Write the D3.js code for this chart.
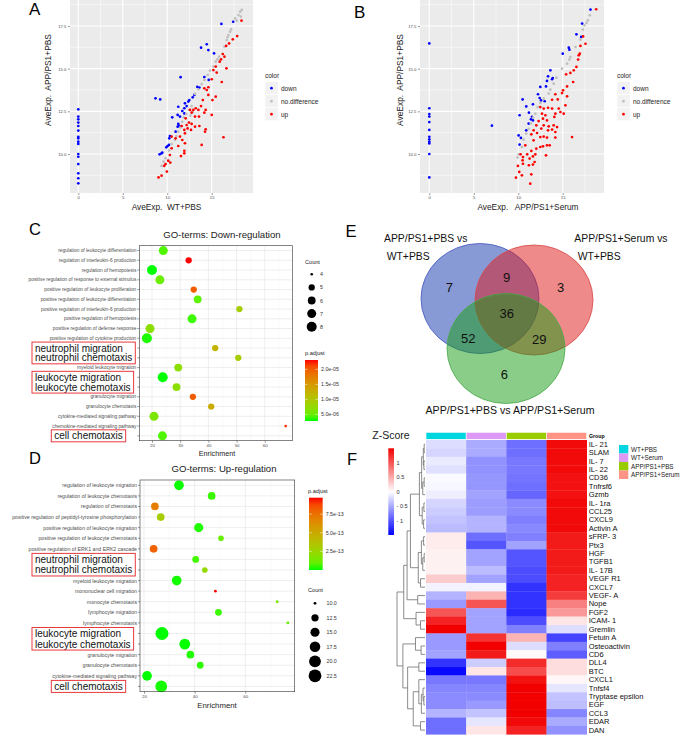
<!DOCTYPE html>
<html>
<head>
<meta charset="utf-8">
<script src="https://cdn.jsdelivr.net/npm/d3@7"></script>
<style>
  body { margin: 0; background: #fff; }
  svg { display: block; font-family: "Liberation Sans", Arial, sans-serif; }
  text { white-space: pre; }
</style>
</head>
<body>
<svg id="fig" width="685" height="736"></svg>
<script>
const FONT = '"Liberation Sans", Arial, sans-serif';

// ---------- A: AveExp WT+PBS (x) vs APP/PS1+PBS (y) ----------
const scatterADown = [
  [0,12.62],[0,12.19],[0,12.03],[0,11.84],[0,11.64],[0,11.37],[0,11.01],[0,10.92],[0,10.72],[0,10.59],
  [0,10.0],[0,9.84],[0,9.41],[0,8.87],[0,8.58],[0,8.28],
  [16.09,17.62],[17.41,17.75],[14.44,16.43],[13.8,16.23],[14.62,16.09],[15.26,15.9],[11.5,14.5],[14.17,14.51],
  [14.66,14.34],[13.38,13.93],[13.61,13.89],[8.68,13.26],[9.21,13.2],[13.05,13.46],[12.86,13.32],[12.48,13.16],
  [12.37,13.07],[11.99,12.97],[12.18,12.81],[11.24,12.77],[11.92,12.68],[11.69,12.52],[11.17,12.29],[10.56,12.15],
  [11.43,12.19],[11.92,12.38],[11.24,11.76],[11.35,11.64],[11.17,11.6],[10.94,11.31],[10.3,11.05],[10.23,10.92],
  [10.04,10.47],[9.89,10.39],[10.19,10.53],[9.36,10.04],[9.14,9.98],[9.44,10.08]
];
const scatterANoDiff = [
  [18.38,18.44],[18.2,18.34],[18.01,18.14],[18.27,18.05],[17.63,17.95],[17.82,17.81],[17.18,17.3],[17.07,17.17],
  [16.88,16.97],[16.77,16.84],[16.69,16.68],[16.43,16.29],[15.83,15.7],[15.64,15.55],[15.45,15.41],[15.19,15.12],
  [14.81,14.88],[14.55,14.63],[14.17,14.34],[13.87,14.1],[13.5,13.79],[13.12,13.52],[12.74,12.81],[12.44,12.58],
  [12.14,12.34],[11.84,12.15],[11.69,11.89],[11.47,11.56],[11.24,11.31],[11.02,11.05],[10.86,10.82],[10.49,10.59],
  [10.19,10.2],[9.81,9.75],[9.59,9.55],[9.36,9.3],[12.9,12.45],[12.6,12.25]
];
const scatterAUp = [
  [18.35,17.81],[17.86,16.91],[17.37,16.72],[16.95,16.48],[16.62,16.33],[16.24,15.86],[16.43,15.7],[16.05,15.55],
  [15.9,15.41],[16.65,15.02],[15.45,15.12],[15.19,14.92],[15.56,14.77],[15.0,14.38],[16.13,14.22],[14.62,13.91],
  [14.17,13.85],[14.44,13.75],[14.62,13.46],[14.0,13.16],[15.45,13.36],[15.08,13.16],[13.8,12.81],[12.93,12.58],
  [13.2,12.68],[13.5,12.58],[12.56,12.58],[12.74,12.42],[14.32,12.58],[14.17,12.42],[13.12,12.19],[13.57,12.19],
  [12.07,12.09],[15.0,12.29],[12.44,11.84],[12.74,11.76],[12.18,11.7],[11.62,11.64],[13.12,11.6],[13.61,11.64],
  [12.29,11.5],[11.92,11.41],[12.67,11.41],[14.32,11.45],[14.25,11.31],[11.99,11.21],[11.43,11.02],[10.94,10.92],
  [10.49,11.02],[11.69,10.82],[11.99,10.63],[11.24,10.47],[13.87,10.53],[16.32,10.98],[10.49,10.33],[11.92,10.19],
  [11.92,10.04],[11.54,9.88],[10.3,9.94],[10.11,9.61],[10.34,9.5],[9.81,9.41],[9.66,9.31],[9.96,8.97],
  [9.36,8.73],[9.02,8.63]
];

// ---------- B: AveExp APP/PS1+Serum (x) vs APP/PS1+PBS (y) ----------
const scatterBDown = [
  [0,16.48],[0,12.68],[0,12.34],[0,12.19],[0,11.87],[0,11.41],[0,11.01],[0,10.86],[0,10.72],[0,10.62],
  [0,10.0],[0,8.63],[7.04,11.66],
  [18.12,18.46],[17.18,17.64],[16.54,17.01],[17.07,16.86],[15.68,16.23],[15.75,16.11],[15.0,15.88],[13.61,14.9],
  [13.35,14.55],[13.87,14.45],[13.8,14.38],[13.23,14.28],[13.12,13.96],[12.48,13.93],[12.22,13.5],[12.41,13.28],
  [12.56,13.14],[12.97,13.09],[10.49,13.2],[10.9,12.79],[11.65,12.91],[11.2,12.42],[10.15,12.27],[11.54,12.17],
  [11.43,12.03],[11.65,11.97],[11.17,11.78],[10.9,11.39],[10.04,11.09],[10.3,10.94],[10.15,10.55]
];
const scatterBNoDiff = [
  [18.05,18.13],[17.82,17.83],[17.67,17.68],[17.44,17.54],[17.26,17.29],[16.99,16.7],[16.43,16.27],[15.86,15.68],
  [15.75,15.53],[15.49,15.29],[14.92,15.0],[14.29,14.47],[13.98,14.12],[13.61,13.77],[13.42,13.54],[12.86,13.24],
  [12.48,12.99],[12.18,12.75],[11.92,12.36],[11.65,12.13],[11.43,11.78],[11.17,11.48],[10.9,11.19],[10.6,10.84],
  [10.41,10.41],[10.04,9.98],[9.92,9.79]
];
const scatterBUp = [
  [18.76,18.48],[17.29,16.89],[17.56,16.46],[16.99,16.33],[16.92,15.88],[16.8,15.78],[16.73,15.53],[16.54,15.1],
  [16.24,14.9],[15.86,14.75],[15.38,14.67],[16.17,14.22],[15.49,13.96],[15.04,13.73],[14.92,13.57],[14.17,13.5],
  [15.49,13.38],[14.44,13.2],[13.8,13.18],[15.3,12.85],[12.48,12.75],[12.86,12.66],[13.35,12.71],[13.8,12.66],
  [14.55,12.66],[14.74,12.46],[15.11,12.36],[12.67,12.36],[13.05,12.27],[14.17,12.36],[14.06,12.17],[12.78,12.07],
  [12.29,11.93],[13.23,11.97],[12.03,11.68],[12.86,11.68],[13.42,11.62],[13.98,11.68],[14.36,11.58],[12.59,11.49],
  [11.73,11.39],[13.35,11.39],[13.8,11.43],[14.17,11.29],[12.11,11.23],[11.47,11.15],[12.48,10.99],[12.86,11.02],
  [13.23,10.96],[14.17,10.96],[16.05,10.99],[11.73,10.8],[10.79,10.51],[12.48,10.41],[12.78,10.45],[13.23,10.51],
  [13.53,10.51],[12.03,10.31],[11.47,10.18],[10.26,9.98],[11.0,9.98],[11.92,9.98],[13.12,9.92],[11.65,9.86],
  [10.53,9.82],[11.28,9.73],[10.49,9.63],[11.84,9.53],[10.53,9.43],[11.65,9.38],[11.2,9.34],[9.96,9.3],
  [10.11,8.95],[10.41,8.75],[11.47,8.81],[9.74,8.61],[11.35,8.26]
];
const scatterXTicks = [0, 5, 10, 15];
const scatterYTicks = [10, 12.5, 15, 17.5];
const scatterXMinor = [2.5, 7.5, 12.5, 17.5];
const scatterYMinor = [8.75, 11.25, 13.75, 16.25, 18.75];
const colorClasses = ['down', 'no.difference', 'up'];
const classColors = ['#0000ff', '#bebebe', '#ff0000'];

// ---------- C: GO-terms down-regulation ----------
const goDownTerms = [
  'regulation of leukocyte differentiation', 'regulation of interleukin-6 production', 'regulation of hemopoiesis',
  'positive regulation of response to external stimulus', 'positive regulation of leukocyte proliferation',
  'positive regulation of leukocyte differentiation', 'positive regulation of interleukin-6 production',
  'positive regulation of hemopoiesis', 'positive regulation of defense response',
  'positive regulation of cytokine production', 'neutrophil migration', 'neutrophil chemotaxis',
  'myeloid leukocyte migration', 'leukocyte migration', 'leukocyte chemotaxis', 'granulocyte migration',
  'granulocyte chemotaxis', 'cytokine-mediated signaling pathway', 'chemokine-mediated signaling pathway',
  'cell chemotaxis'
];
const goDownEnrich = [24.0, 33.0, 20.0, 22.8, 34.8, 36.2, 51.0, 34.2, 19.3, 18.2, 42.4, 50.6, 29.3, 23.8, 28.7, 34.5, 41.0, 20.7, 67.4, 23.7];
const goDownCount = [7, 5, 8, 7, 5, 6, 5, 7, 7, 8, 5, 5, 6, 8, 6, 5, 5, 7, 4, 7];
const goDownPadj = [4e-6, 2.31e-5, 2.8e-6, 5e-6, 2.0e-5, 4.5e-6, 9e-6, 3.5e-6, 7e-6, 3e-6, 1.2e-5, 9e-6, 7e-6, 2.8e-6, 7e-6, 2.0e-5, 1.3e-5, 6e-6, 2.25e-5, 4e-6];
const goDownXTicks = [20, 30, 40, 50, 60];
const goDownCountBreaks = [4, 5, 6, 7, 8];
const goDownPadjBreaks = [5e-6, 1e-5, 1.5e-5, 2e-5];

// ---------- D: GO-terms up-regulation ----------
const goUpTerms = [
  'regulation of leukocyte migration', 'regulation of leukocyte chemotaxis', 'regulation of chemotaxis',
  'positive regulation of peptidyl-tyrosine phosphorylation', 'positive regulation of leukocyte migration',
  'positive regulation of leukocyte chemotaxis', 'positive regulation of ERK1 and ERK2 cascade',
  'neutrophil migration', 'neutrophil chemotaxis', 'myeloid leukocyte migration', 'mononuclear cell migration',
  'monocyte chemotaxis', 'lymphocyte migration', 'lymphocyte chemotaxis', 'leukocyte migration',
  'leukocyte chemotaxis', 'granulocyte migration', 'granulocyte chemotaxis', 'cytokine-mediated signaling pathway',
  'cell chemotaxis'
];
const goUpEnrich = [33.8, 46.7, 24.3, 26.6, 41.6, 50.4, 23.8, 40.4, 44.0, 32.9, 48.2, 72.6, 49.4, 76.8, 27.1, 36.1, 38.3, 42.2, 21.2, 26.8];
const goUpCount = [16, 13, 13, 13, 15, 11, 13, 12, 11, 16, 10, 10, 12, 10, 23, 18, 13, 12, 16, 20];
const goUpPadj = [0.02e-13, 0.3e-13, 7.0e-13, 3.0e-13, 0.1e-13, 1.0e-13, 8.0e-13, 0.4e-13, 2.3e-13, 0.05e-13, 9.7e-13, 1.5e-13, 0.3e-13, 1.0e-13, 0.001e-13, 0.01e-13, 0.1e-13, 0.2e-13, 0.001e-13, 0.05e-13];
const goUpXTicks = [20, 40, 60];
const goUpCountBreaks = [10, 12.5, 15, 17.5, 20, 22.5];
const goUpPadjBreaks = [2.5e-13, 5e-13, 7.5e-13];

const highlightGroups = [
  ['neutrophil migration', 'neutrophil chemotaxis'],
  ['leukocyte migration', 'leukocyte chemotaxis'],
  ['cell chemotaxis']
];

// ---------- E: Venn ----------
const vennRegions = ['A', 'AB', 'B', 'ABC', 'AC', 'BC', 'C'];
const vennCounts = [7, 9, 3, 36, 52, 29, 6];

// ---------- F: heatmap ----------
const groups = ['WT+PBS', 'WT+Serum', 'APP/PS1+PBS', 'APP/PS1+Serum'];
const groupColors = ['#00d6e0', '#dc9af6', '#99cc00', '#ff9486'];
const cytokines = ['IL- 21', 'SLAM', 'IL- 7', 'IL- 22', 'CD36', 'Tnfrsf6', 'Gzmb', 'IL- 1ra', 'CCL25', 'CXCL9',
  'Activin A', 'sFRP- 3', 'Ptx3', 'HGF', 'TGFB1', 'IL- 17B', 'VEGF R1', 'CXCL7', 'VEGF- A', 'Nope', 'FGF2',
  'ICAM- 1', 'Gremlin', 'Fetuin A', 'Osteoactivin', 'CD6', 'DLL4', 'BTC', 'CXCL1', 'Tnfsf4', 'Tryptase epsilon',
  'EGF', 'CCL3', 'EDAR', 'DAN'];
const zScores = [
  [-0.20, -0.50, -0.85, 1.45], [-0.25, -0.50, -0.85, 1.45], [-0.12, -0.65, -0.80, 1.45], [-0.18, -0.65, -0.80, 1.45],
  [-0.03, -0.62, -0.82, 1.40], [-0.05, -0.62, -0.85, 1.40], [-0.10, -0.55, -0.90, 1.40], [-0.25, -0.58, -0.68, 1.45],
  [-0.30, -0.58, -0.68, 1.45], [-0.35, -0.45, -0.75, 1.45], [-0.40, -0.45, -0.70, 1.45], [0.12, -0.85, -0.75, 1.35],
  [0.12, -1.00, -0.55, 1.35], [0.08, -0.55, -1.00, 1.35], [0.08, -0.55, -1.00, 1.35], [0.08, -0.40, -1.05, 1.35],
  [0.30, -0.55, -1.05, 1.30], [-0.07, -0.07, -1.20, 1.30], [-0.45, 0.45, -1.20, 1.15], [-0.60, 1.00, -1.20, 0.75],
  [1.00, -0.55, -1.25, 0.60], [1.30, -0.55, -1.05, 0.15], [1.50, -0.55, -0.75, -0.20], [-0.60, 1.20, 0.45, -1.10],
  [-0.60, 1.50, -0.20, -0.75], [-0.55, 1.35, 0.03, -0.95], [-1.20, -0.30, 1.25, 0.20], [-1.45, 0.15, 1.05, 0.20],
  [-0.80, -0.80, 1.40, 0.05], [-0.72, -0.72, 1.50, -0.15], [-0.68, -0.68, 1.50, -0.35], [-0.68, -0.60, 1.50, -0.38],
  [-0.45, -0.35, 1.50, -0.72], [-0.85, -0.15, 1.45, -0.50], [-0.85, 0.15, 1.30, -0.65]
];
// row dendrogram: [height, left, right], leaves are row indices
const rowTree = [1.0,
  [0.76,
    [0.64,
      [0.52,
        [0.2, [0.12, [0.06, [0.03, 0, 1], [0.04, 2, 3]], [0.08, [0.03, 4, 5], 6]], [0.1, [0.04, 7, 8], [0.05, 9, 10]]],
        [0.24, [0.13, [0.05, 11, 12], [0.08, [0.03, 13, 14], 15]], [0.16, 16, 17]]],
      [0.26, 18, 19]],
    [0.32, 20, [0.16, 21, 22]]],
  [0.79,
    [0.34, 23, [0.14, 24, 25]],
    [0.62, [0.22, 26, 27], [0.42, [0.22, 28, [0.13, [0.07, 29, [0.04, 30, 31]], 32]], [0.16, 33, 34]]]]];
const zTicks = [1, 0.5, 0, -0.5, -1];
const zTickLabels = ['1', '0.5', '0', '- 0.5', '- 1'];

// =====================================================================
const svg = d3.select('#fig');
const defs = svg.append('defs');

function addText(g, x, y, str, size, o = {}) {
  return g.append('text').attr('x', x).attr('y', y).text(str)
    .attr('font-size', size).attr('font-family', FONT)
    .attr('fill', o.fill || '#000')
    .attr('text-anchor', o.anchor || 'start')
    .attr('font-weight', o.weight || null)
    .attr('dominant-baseline', o.baseline || null)
    .attr('transform', o.rotate ? `rotate(${o.rotate},${x},${y})` : null);
}

function styleAxis(a, size) {
  a.attr('font-family', FONT).attr('font-size', size);
  a.select('.domain').remove();
  a.selectAll('line').attr('stroke', '#333').attr('stroke-width', 0.5);
  a.selectAll('text').attr('fill', '#4d4d4d');
}

// ---------- scatter panels ----------
function drawScatter(cfg) {
  const g = svg.append('g');
  const x = d3.scaleLinear().domain(cfg.xDomain).range([cfg.left, cfg.right]);
  const y = d3.scaleLinear().domain(cfg.yDomain).range([cfg.bottom, cfg.top]);
  g.append('rect').attr('x', cfg.left).attr('y', cfg.top)
    .attr('width', cfg.right - cfg.left).attr('height', cfg.bottom - cfg.top).attr('fill', '#ebebeb');
  const grid = (vals, vertical, w) => g.append('g').selectAll('line').data(vals).join('line')
    .attr('x1', d => vertical ? x(d) : cfg.left).attr('x2', d => vertical ? x(d) : cfg.right)
    .attr('y1', d => vertical ? cfg.top : y(d)).attr('y2', d => vertical ? cfg.bottom : y(d))
    .attr('stroke', '#fff').attr('stroke-width', w);
  grid(scatterXMinor, true, 0.5); grid(scatterYMinor, false, 0.5);
  grid(scatterXTicks, true, 1.1); grid(scatterYTicks, false, 1.1);

  cfg.series.forEach((pts, i) => {
    g.append('g').selectAll('circle').data(pts).join('circle')
      .attr('cx', d => x(d[0])).attr('cy', d => y(d[1])).attr('r', 1.35).attr('fill', classColors[i]);
  });

  const ax = g.append('g').attr('transform', `translate(0,${cfg.bottom})`)
    .call(d3.axisBottom(x).tickValues(scatterXTicks).tickSize(2).tickPadding(1).tickFormat(d3.format('d')));
  styleAxis(ax, 4.3);
  const ay = g.append('g').attr('transform', `translate(${cfg.left},0)`)
    .call(d3.axisLeft(y).tickValues(scatterYTicks).tickSize(2).tickPadding(1.5).tickFormat(d3.format('.1f')));
  styleAxis(ay, 4.3);

  addText(g, cfg.xTitleX, 209.5, cfg.xTitle, 8.3, { anchor: 'middle', fill: '#222' });
  addText(g, cfg.yTitleX, 80, cfg.yTitle, 8.4, { anchor: 'middle', fill: '#222', rotate: -90 });

  // legend
  const lx = cfg.legendX;
  addText(g, lx, 78, 'color', 6.5, { fill: '#222' });
  colorClasses.forEach((c, i) => {
    const ky = 81.7 + i * 13;
    g.append('rect').attr('x', lx).attr('y', ky).attr('width', 13).attr('height', 13)
      .attr('fill', '#f2f2f2').attr('stroke', '#fff').attr('stroke-width', 0.5);
    g.append('circle').attr('cx', lx + 6.5).attr('cy', ky + 6.5).attr('r', 1.35).attr('fill', classColors[i]);
    addText(g, lx + 16, ky + 6.7, c, 6.5, { baseline: 'central', fill: '#222' });
  });
  addText(g, cfg.labelX, cfg.labelY, cfg.label, 17);
}

const yDomScatter = [10 - 39 / 17.0667, 10 + 156 / 17.0667];
drawScatter({
  left: 70, right: 253, top: -2, bottom: 193,
  xDomain: [-0.933, 19.64], yDomain: yDomScatter,
  series: [scatterADown, scatterANoDiff, scatterAUp],
  xTitle: 'AveExp.  WT+PBS', xTitleX: 166.5,
  yTitle: 'AveExp.  APP/PS1+PBS', yTitleX: 51,
  legendX: 265, label: 'A', labelX: 29, labelY: 15
});
drawScatter({
  left: 420, right: 604, top: -2, bottom: 193,
  xDomain: [-1.046, 19.64], yDomain: yDomScatter,
  series: [scatterBDown, scatterBNoDiff, scatterBUp],
  xTitle: 'AveExp.   APP/PS1+Serum', xTitleX: 528,
  yTitle: 'AveExp.  APP/PS1+PBS', yTitleX: 403,
  legendX: 617, label: 'B', labelX: 354, labelY: 18.3
});

// ---------- GO dot plots ----------
function sciLabel(v) {
  const [m, e] = v.toExponential(1).split('e');
  return m + 'e' + e[0] + e.slice(1).padStart(2, '0');
}

function drawGO(cfg) {
  const g = svg.append('g');
  const x = d3.scaleLinear().domain(cfg.xDomain).range([cfg.left, cfg.right]);
  const y = d3.scalePoint().domain(cfg.terms).range([cfg.top, cfg.bottom]).padding(0.5);
  const pExt = d3.extent(cfg.padj);
  const col = d3.scaleLinear().domain(pExt).range(['#00ff00', '#ff0000']).interpolate(d3.interpolateLab);
  const cExt = d3.extent(cfg.count);
  const rad = v => cfg.rRange[0] + (cfg.rRange[1] - cfg.rRange[0]) * Math.sqrt(Math.max(0, v - cExt[0]) / (cExt[1] - cExt[0]));

  g.append('rect').attr('x', cfg.left).attr('y', cfg.top)
    .attr('width', cfg.right - cfg.left).attr('height', cfg.bottom - cfg.top).attr('fill', '#fff');
  g.append('g').selectAll('line').data(cfg.xMinor).join('line')
    .attr('x1', d => x(d)).attr('x2', d => x(d)).attr('y1', cfg.top).attr('y2', cfg.bottom)
    .attr('stroke', '#f2f2f2').attr('stroke-width', 0.4);
  g.append('g').selectAll('line').data(cfg.xTicks).join('line')
    .attr('x1', d => x(d)).attr('x2', d => x(d)).attr('y1', cfg.top).attr('y2', cfg.bottom)
    .attr('stroke', '#e6e6e6').attr('stroke-width', 0.7);
  g.append('g').selectAll('line').data(cfg.terms).join('line')
    .attr('x1', cfg.left).attr('x2', cfg.right).attr('y1', d => y(d)).attr('y2', d => y(d))
    .attr('stroke', '#e6e6e6').attr('stroke-width', 0.7);

  g.append('g').selectAll('circle').data(cfg.terms).join('circle')
    .attr('cx', (d, i) => x(cfg.enrich[i])).attr('cy', d => y(d))
    .attr('r', (d, i) => rad(cfg.count[i])).attr('fill', (d, i) => col(cfg.padj[i]));

  g.append('rect').attr('x', cfg.left).attr('y', cfg.top)
    .attr('width', cfg.right - cfg.left).attr('height', cfg.bottom - cfg.top)
    .attr('fill', 'none').attr('stroke', '#333').attr('stroke-width', 0.6);

  // y axis: ticks + labels (highlighted terms drawn separately)
  const hl = new Set(highlightGroups.flat());
  g.append('g').selectAll('line').data(cfg.terms).join('line')
    .attr('x1', cfg.left - 2).attr('x2', cfg.left).attr('y1', d => y(d)).attr('y2', d => y(d))
    .attr('stroke', '#333').attr('stroke-width', 0.5);
  cfg.terms.forEach(t => {
    if (!hl.has(t)) addText(g, cfg.left - 3, y(t), t, cfg.labelSize, { anchor: 'end', baseline: 'central', fill: '#4d4d4d' });
  });
  highlightGroups.forEach((grp, gi) => {
    const tg = g.append('g');
    grp.forEach(t => addText(tg, cfg.hlX[gi], y(t), t, 10, { baseline: 'central', fill: '#111' }));
    const bb = tg.node().getBBox();
    g.append('rect').attr('x', bb.x - 3).attr('y', bb.y - 0.5)
      .attr('width', bb.width + 6).attr('height', bb.height + 1)
      .attr('fill', 'none').attr('stroke', '#e8383d').attr('stroke-width', 1);
  });

  const ax = g.append('g').attr('transform', `translate(0,${cfg.bottom})`)
    .call(d3.axisBottom(x).tickValues(cfg.xTicks).tickSize(2).tickPadding(1).tickFormat(d3.format('d')));
  styleAxis(ax, 4.4);
  addText(g, 217, cfg.bottom + cfg.xTitleDy, 'Enrichment', cfg.xTitleSize, { anchor: 'middle', fill: '#222' });
  addText(g, cfg.titleX, cfg.titleY, cfg.title, 9.6, { anchor: 'middle', fill: '#222' });
  addText(g, 29, cfg.labelY, cfg.label, 16.5);

  // size legend
  const L = cfg.countLegend;
  addText(g, L.x, L.y, 'Count', 5.6, { fill: '#222' });
  cfg.countBreaks.forEach((b, i) => {
    const cy = L.y0 + i * L.step;
    g.append('circle').attr('cx', L.cx).attr('cy', cy).attr('r', rad(b)).attr('fill', '#000');
    addText(g, L.tx, cy, d3.format(cfg.countFmt || 'd')(b), 5.3, { baseline: 'central', fill: '#333' });
  });

  // colour bar legend
  const P = cfg.padjLegend;
  addText(g, P.x, P.y, 'p.adjust', 5.6, { fill: '#222' });
  const gid = 'grad' + cfg.label;
  const grad = defs.append('linearGradient').attr('id', gid).attr('x1', 0).attr('y1', 1).attr('x2', 0).attr('y2', 0);
  d3.range(0, 1.0001, 0.1).forEach(t => grad.append('stop').attr('offset', t)
    .attr('stop-color', col(pExt[0] + t * (pExt[1] - pExt[0]))));
  g.append('rect').attr('x', P.bx).attr('y', P.by).attr('width', P.bw).attr('height', P.bh).attr('fill', `url(#${gid})`);
  const yb = d3.scaleLinear().domain(pExt).range([P.by + P.bh, P.by]);
  cfg.padjBreaks.forEach(b => {
    g.append('line').attr('x1', P.bx).attr('x2', P.bx + P.bw * 0.2).attr('y1', yb(b)).attr('y2', yb(b)).attr('stroke', '#fff').attr('stroke-width', 0.5);
    g.append('line').attr('x1', P.bx + P.bw * 0.8).attr('x2', P.bx + P.bw).attr('y1', yb(b)).attr('y2', yb(b)).attr('stroke', '#fff').attr('stroke-width', 0.5);
    addText(g, P.bx + P.bw + 3, yb(b), sciLabel(b), 5.3, { baseline: 'central', fill: '#333' });
  });
}

drawGO({
  label: 'C', labelY: 235, title: 'GO-terms: Down-regulation', titleX: 222, titleY: 238,
  left: 139.3, right: 292.3, top: 245.7, bottom: 440.7,
  xDomain: [15.5, 69.75], xTicks: goDownXTicks, xMinor: [25, 35, 45, 55, 65],
  terms: goDownTerms, enrich: goDownEnrich, count: goDownCount, padj: goDownPadj,
  rRange: [1.3, 5.0], labelSize: 4.8, hlX: [35, 35, 54.3],
  xTitleDy: 15, xTitleSize: 7.2,
  countBreaks: goDownCountBreaks, padjBreaks: goDownPadjBreaks,
  countLegend: { x: 305, y: 264, cx: 311.7, y0: 274.3, step: 13.1, tx: 320 },
  padjLegend: { x: 305, y: 355.3, bx: 305, by: 360, bw: 13, bh: 61 }
});
drawGO({
  label: 'D', labelY: 464.3, title: 'GO-terms: Up-regulation', titleX: 224, titleY: 472.3,
  left: 140, right: 294.7, top: 480, bottom: 691.7,
  xDomain: [18.42, 79.5], xTicks: goUpXTicks, xMinor: [30, 50, 70],
  terms: goUpTerms, enrich: goUpEnrich, count: goUpCount, padj: goUpPadj,
  rRange: [1.4, 6.5], labelSize: 5.2, hlX: [35, 35, 54.3],
  xTitleDy: 15.8, xTitleSize: 7.8, countFmt: '.1f',
  countBreaks: goUpCountBreaks, padjBreaks: goUpPadjBreaks,
  countLegend: { x: 308, y: 592.3, cx: 315, y0: 603.3, step: 14.5, tx: 326.5 },
  padjLegend: { x: 308, y: 493, bx: 309, by: 497.7, bw: 13.7, bh: 72.3 }
});

// ---------- E: Venn ----------
(function drawVenn() {
  const g = svg.append('g');
  const sets = [
    { cx: 480, cy: 298.5, fill: '#1135ad', stroke: '#4556c0' },
    { cx: 534, cy: 300, fill: '#dd1515', stroke: '#d84848' },
    { cx: 506, cy: 348.5, fill: '#159b11', stroke: '#48a848' }
  ];
  g.selectAll('ellipse').data(sets).join('ellipse')
    .attr('cx', d => d.cx).attr('cy', d => d.cy).attr('rx', 59).attr('ry', 55)
    .attr('fill', d => d.fill).attr('fill-opacity', 0.5)
    .attr('stroke', d => d.stroke).attr('stroke-width', 0.8);
  const regionPos = { A: [449.3, 287.3], AB: [506.7, 277.3], B: [560.7, 287.3], ABC: [506.7, 313.3],
    AC: [468.3, 338.3], BC: [539.3, 339.3], C: [504.3, 374] };
  vennRegions.forEach((r, i) => addText(g, regionPos[r][0], regionPos[r][1], String(vennCounts[i]), 13,
    { anchor: 'middle', baseline: 'central', fill: '#111' }));
  addText(g, 384, 241.8, 'APP/PS1+PBS vs', 10.4, { fill: '#111' });
  addText(g, 386.7, 259.5, 'WT+PBS', 10.4, { fill: '#111' });
  addText(g, 574.3, 241.8, 'APP/PS1+Serum vs', 10.4, { fill: '#111' });
  addText(g, 577.7, 259.5, 'WT+PBS', 10.4, { fill: '#111' });
  addText(g, 510, 413.8, 'APP/PS1+PBS vs APP/PS1+Serum', 10.6, { anchor: 'middle', fill: '#111' });
  addText(g, 345.5, 237.3, 'E', 16.5);
})();

// ---------- F: heatmap ----------
(function drawHeatmap() {
  const g = svg.append('g');
  const hx = d3.scaleBand().domain(groups).range([426, 586.7]);
  const hy = d3.scaleBand().domain(cytokines).range([440, 734.3]);
  const zColor = d3.scaleLinear().domain([-1.5, 0, 1.5]).range(['#0000ff', '#ffffff', '#f20000']).clamp(true);

  // column annotation
  g.append('g').selectAll('rect').data(groups).join('rect')
    .attr('x', d => hx(d)).attr('y', 432.3).attr('width', hx.bandwidth()).attr('height', 7)
    .attr('fill', (d, i) => groupColors[i]).attr('stroke', '#fff').attr('stroke-width', 0.6);
  addText(g, 589, 436, 'Group', 5.2, { weight: 'bold', baseline: 'central' });

  // cells
  zScores.forEach((row, i) => {
    g.append('g').selectAll('rect').data(row).join('rect')
      .attr('x', (d, j) => hx(groups[j])).attr('y', hy(cytokines[i]))
      .attr('width', hx.bandwidth() + 0.3).attr('height', hy.bandwidth() + 0.3)
      .attr('fill', d => zColor(d));
  });
  cytokines.forEach(c => addText(g, 588.7, hy(c) + hy.bandwidth() / 2, c, 7.5, { baseline: 'central', fill: '#111' }));

  // dendrogram
  const toHier = n => Array.isArray(n) ? { h: n[0], children: n.slice(1).map(toHier) } : { h: 0, leaf: n };
  const root = d3.hierarchy(toHier(rowTree));
  const dx = d3.scaleLinear().domain([0, root.data.h]).range([425, 397]);
  root.eachAfter(n => {
    n.px = dx(n.data.h);
    n.py = n.children ? (n.children[0].py + n.children[1].py) / 2
      : hy(cytokines[n.data.leaf]) + hy.bandwidth() / 2;
  });
  const links = root.descendants().filter(n => n.children);
  g.append('g').selectAll('path').data(links).join('path')
    .attr('d', n => {
      const [a, b] = n.children;
      return `M${a.px},${a.py}H${n.px}V${b.py}H${b.px}`;
    })
    .attr('fill', 'none').attr('stroke', '#6e6e6e').attr('stroke-width', 0.8);

  // z-score legend
  addText(g, 391, 438.5, 'Z-Score', 10.5, { anchor: 'middle', fill: '#222' });
  const zs = d3.scaleLinear().domain([-1.5, 1.5]).range([535, 448.3]);
  const zg = defs.append('linearGradient').attr('id', 'zgrad').attr('x1', 0).attr('y1', 1).attr('x2', 0).attr('y2', 0);
  d3.range(0, 1.0001, 0.05).forEach(t => zg.append('stop').attr('offset', t).attr('stop-color', zColor(-1.5 + 3 * t)));
  g.append('rect').attr('x', 388.3).attr('y', 448.3).attr('width', 5.7).attr('height', 86.7).attr('fill', 'url(#zgrad)');
  zTicks.forEach((t, i) => addText(g, 396.5, zs(t), zTickLabels[i], 5.6, { baseline: 'central', fill: '#333' }));

  // group legend
  groups.forEach((gname, i) => {
    const yy = 445 + i * 8.5;
    g.append('rect').attr('x', 619).attr('y', yy).attr('width', 9.3).attr('height', 8.5).attr('fill', groupColors[i]);
    addText(g, 631, yy + 4.4, gname, 6.3, { baseline: 'central', fill: '#222' });
  });
  addText(g, 347, 465, 'F', 16.5);
})();
</script>
</body>
</html>
